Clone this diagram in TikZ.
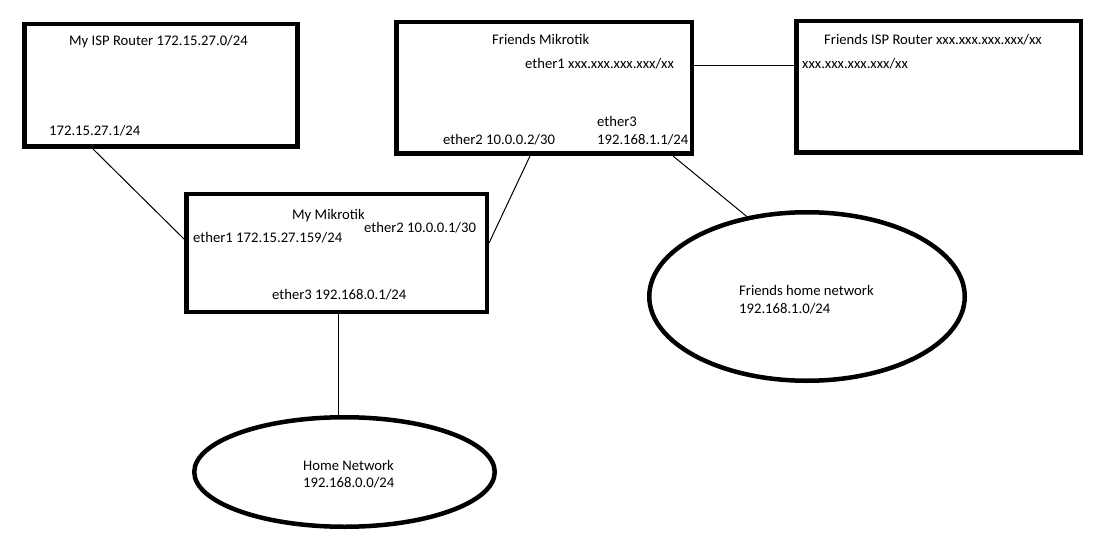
\documentclass[tikz,border=0pt]{standalone}
\usepackage{fontspec}
\setmainfont{Carlito}
\usetikzlibrary{shapes.geometric,calc}
\tikzset{
  box/.style={draw=black, line width=4.5pt, rectangle, inner sep=0pt},
  net/.style={draw=black, line width=4.5pt, ellipse, inner sep=0pt},
  lbl/.style={anchor=base west, inner sep=0pt, text=black, font=\fontsize{14.67}{17}\selectfont},
  wire/.style={draw=black, line width=1pt}
}
\begin{document}
\begin{tikzpicture}[x=1pt,y=-1pt]
\fill[white] (0,0) rectangle (1107,545);
\useasboundingbox (0,0) rectangle (1107,545);
% boxes
\node[box, minimum width=273pt, minimum height=122.5pt] (isp) at (160.75,85.5) {};
\node[box, minimum width=295.5pt, minimum height=131.5pt] (fm) at (544,88) {};
\node[box, minimum width=300.5pt, minimum height=117.5pt] (mym) at (336.5,253) {};
\node[box, minimum width=284.5pt, minimum height=131.5pt] (fisp) at (938.5,87) {};
% networks
\node[net, minimum width=315.5pt, minimum height=168.5pt] (fhn) at (807,296.5) {};
\node[net, minimum width=300.5pt, minimum height=109.5pt] (hn) at (344.5,472) {};
% labels
\node[lbl] (t1) at (69,46) {My ISP Router 172.15.27.0/24};
\node[lbl] (t2) at (49,136) {172.15.27.1/24};
\node[lbl] (t3) at (492,45) {Friends Mikrotik};
\node[lbl] (t4) at (525,69) {ether1 xxx.xxx.xxx.xxx/xx};
\node[lbl] (t5) at (597,127) {ether3};
\node[lbl] (t6) at (597,145) {192.168.1.1/24};
\node[lbl] (t7) at (443,145) {ether2 10.0.0.2/30};
\node[lbl] (t8) at (824,45) {Friends ISP Router xxx.xxx.xxx.xxx/xx};
\node[lbl] (t9) at (802,69) {xxx.xxx.xxx.xxx/xx};
\node[lbl] (t10) at (292,219) {My Mikrotik};
\node[lbl] (t11) at (193,243) {ether1 172.15.27.159/24};
\node[lbl] (t12) at (364,233) {ether2 10.0.0.1/30};
\node[lbl] (t13) at (272,299) {ether3 192.168.0.1/24};
\node[lbl] (t14) at (739,295) {Friends home network};
\node[lbl] (t15) at (739,313) {192.168.1.0/24};
\node[lbl] (t16) at (303,470) {Home Network};
\node[lbl] (t17) at (303,487) {192.168.0.0/24};
% connector points
\coordinate (c1) at ($(isp.south west)+(71,0)$);
\coordinate (c2) at ($(mym.north west)+(0,47)$);
\coordinate (c3) at ($(mym.north east)+(0,51)$);
\coordinate (c4) at ($(fm.south west)+(136,0)$);
\coordinate (c5) at ($(fm.south west)+(279,0)$);
\coordinate (c6) at ($(mym.south west)+(154,0)$);
\coordinate (c7) at ($(fm.north east)+(0,46)$);
% connectors
\draw[wire] (c1) -- (c2);
\draw[wire] (c3) -- (c4);
\draw[wire] (c5) -- (fhn.127.5);
\draw[wire] (c6) -- (c6 |- hn.north);
\draw[wire] (c7) -- (c7 -| fisp.west);
\end{tikzpicture}
\end{document}
